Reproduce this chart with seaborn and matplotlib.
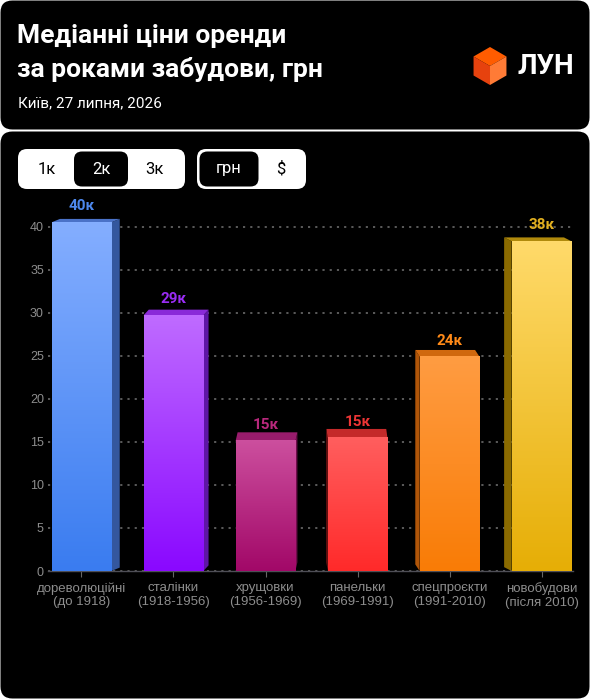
import numpy as np
import matplotlib
matplotlib.use("Agg")
import matplotlib.pyplot as plt
import seaborn as sns
from matplotlib.patches import FancyBboxPatch, Polygon
from matplotlib.colors import LinearSegmentedColormap

# data (тис. грн)
categories = ["дореволюційні\n(до 1918)", "сталінки\n(1918-1956)", "хрущовки\n(1956-1969)",
              "панельки\n(1969-1991)", "спецпроєкти\n(1991-2010)", "новобудови\n(після 2010)"]
values = [40.5, 29.7, 15.1, 15.5, 24.9, 38.3]
value_labels = ["40к", "29к", "15к", "15к", "24к", "38к"]
y_ticks = [0, 5, 10, 15, 20, 25, 30, 35, 40]
rooms = ["1к", "2к", "3к"]
currencies = ["грн", "$"]
title_lines = ["Медіанні ціни оренди", "за роками забудови, грн"]
subtitle = "Київ, 27 липня, 2026"

# colours
top_colors = ["#84aeff", "#bf6bff", "#cc4f9e", "#ff5e5e", "#ff9c42", "#ffda6a"]
bottom_colors = ["#3a7cf0", "#8a08ff", "#a20868", "#ff2a2a", "#f97c06", "#e6ae06"]
lid_colors = ["#4a72c8", "#8a2ad8", "#991c6c", "#c42a2a", "#d0680e", "#b08a0c"]
side_colors = ["#34579e", "#5e16a6", "#6e0d4a", "#9c1a1a", "#b05508", "#8a6a00"]
label_colors = ["#4d88ec", "#9a2cf5", "#b8287c", "#ec3535", "#ff8a18", "#e2b020"]

W, H = 590, 700
plt.rcParams["font.family"] = ["Liberation Sans", "DejaVu Sans"]
HEAD = ["Roboto", "DejaVu Sans"]

fig = plt.figure(figsize=(W / 100, H / 100), dpi=100, facecolor="white")
bg = fig.add_axes([0, 0, 1, 1])
bg.set_xlim(0, W)
bg.set_ylim(H, 0)
bg.axis("off")

# panels
bg.add_patch(FancyBboxPatch((0.5, 0.5), W - 1, 129, boxstyle="round,pad=0,rounding_size=12",
                            fc="black", ec="none"))
bg.add_patch(FancyBboxPatch((0.5, 131.5), W - 1, 567, boxstyle="round,pad=0,rounding_size=12",
                            fc="black", ec="none"))

# header
bg.text(17, 36, title_lines[0], color="white", fontsize=19, weight="bold", va="center", family=HEAD)
bg.text(17, 69, title_lines[1], color="white", fontsize=19, weight="bold", va="center", family=HEAD)
bg.text(18, 103, subtitle, color="white", fontsize=11, va="center", family=HEAD)

# logo cube
cx, cy, r = 490, 66, 19
top = (cx, cy - r); ur = (cx + 0.866 * r, cy - r / 2); lr = (cx + 0.866 * r, cy + r / 2)
bot = (cx, cy + r); ll = (cx - 0.866 * r, cy + r / 2); ul = (cx - 0.866 * r, cy - r / 2); c = (cx, cy)
bg.add_patch(Polygon([top, ur, c, ul], closed=True, fc="#ff5c00", ec="none"))
bg.add_patch(Polygon([ul, c, bot, ll], closed=True, fc="#e6420e", ec="none"))
bg.add_patch(Polygon([c, ur, lr, bot], closed=True, fc="#ff7b36", ec="none"))
bg.text(517, 66, "ЛУН", color="white", fontsize=20, weight="bold", va="center", family=HEAD)

# switch buttons
bg.add_patch(FancyBboxPatch((18, 149), 167, 40, boxstyle="round,pad=0,rounding_size=9", fc="white", ec="none"))
bg.add_patch(FancyBboxPatch((74, 151.5), 54, 35, boxstyle="round,pad=0,rounding_size=8", fc="black", ec="none"))
for lab, x in zip(rooms, [47, 101, 154]):
    bg.text(x, 169, lab, color="white" if lab == "2к" else "black", fontsize=12,
            ha="center", va="center", family=HEAD)
bg.add_patch(FancyBboxPatch((197, 149), 109, 40, boxstyle="round,pad=0,rounding_size=9", fc="white", ec="none"))
bg.add_patch(FancyBboxPatch((199.5, 151.5), 59, 35, boxstyle="round,pad=0,rounding_size=8", fc="black", ec="none"))
for lab, x in zip(currencies, [229, 281]):
    bg.text(x, 169, lab, color="white" if lab == "грн" else "black", fontsize=12,
            ha="center", va="center", family=HEAD)

# chart
ax = fig.add_axes([48 / W, (H - 571) / H, 525 / W, (571 - 209.4) / H])
ax.set_facecolor("none")
sns.barplot(x=categories, y=values, hue=categories, palette=bottom_colors, width=0.65,
            saturation=1, legend=False, ax=ax, zorder=3)

for i, p in enumerate(ax.patches):
    x0, w, h = p.get_x(), p.get_width(), p.get_height()
    xc = x0 + w / 2
    dx = -0.0344 * (xc - 2.63)
    dy = 0.0242 * (56.8 - h)
    xs = x0 + w if dx > 0 else x0
    ax.add_patch(Polygon([(xs, 0), (xs, h), (xs + dx, h + dy), (xs + dx, dy)], closed=True,
                         fc=side_colors[i], ec="none", zorder=2.5))
    ax.add_patch(Polygon([(x0, h), (x0 + w, h), (x0 + w + dx, h + dy), (x0 + dx, h + dy)], closed=True,
                         fc=lid_colors[i], ec="none", zorder=2.5))
    cmap = LinearSegmentedColormap.from_list("g%d" % i, [bottom_colors[i], top_colors[i]])
    ax.imshow(np.linspace(0, 1, 128).reshape(-1, 1), extent=(x0, x0 + w, 0, h), origin="lower",
              cmap=cmap, aspect="auto", zorder=3.5, interpolation="bilinear")
    ax.annotate(value_labels[i], (xc, h), xytext=(0, 11.5), textcoords="offset points",
                ha="center", va="center", color=label_colors[i], fontsize=11, weight="bold",
                family=HEAD)

ax.set_xlim(-0.364, 5.342)
ax.set_ylim(0, 42)
ax.set_yticks(y_ticks)
ax.yaxis.grid(True, color="#626262", linestyle=(0, (1.2, 2.8)), linewidth=1.3)
ax.xaxis.grid(False)
ax.set_axisbelow(True)
for s in ["left", "top", "right"]:
    ax.spines[s].set_visible(False)
ax.spines["bottom"].set_color("#4e4e56")
ax.spines["bottom"].set_linewidth(1)
ax.tick_params(axis="x", length=4, color="#666666", pad=4, labelcolor="#8d8d8d", labelsize=9.5)
ax.tick_params(axis="y", length=0, pad=3, labelcolor="#8d8d8d", labelsize=9)
ax.set_xlabel("")
ax.set_ylabel("")

fig.savefig("out.png", dpi=100, facecolor=fig.get_facecolor())
